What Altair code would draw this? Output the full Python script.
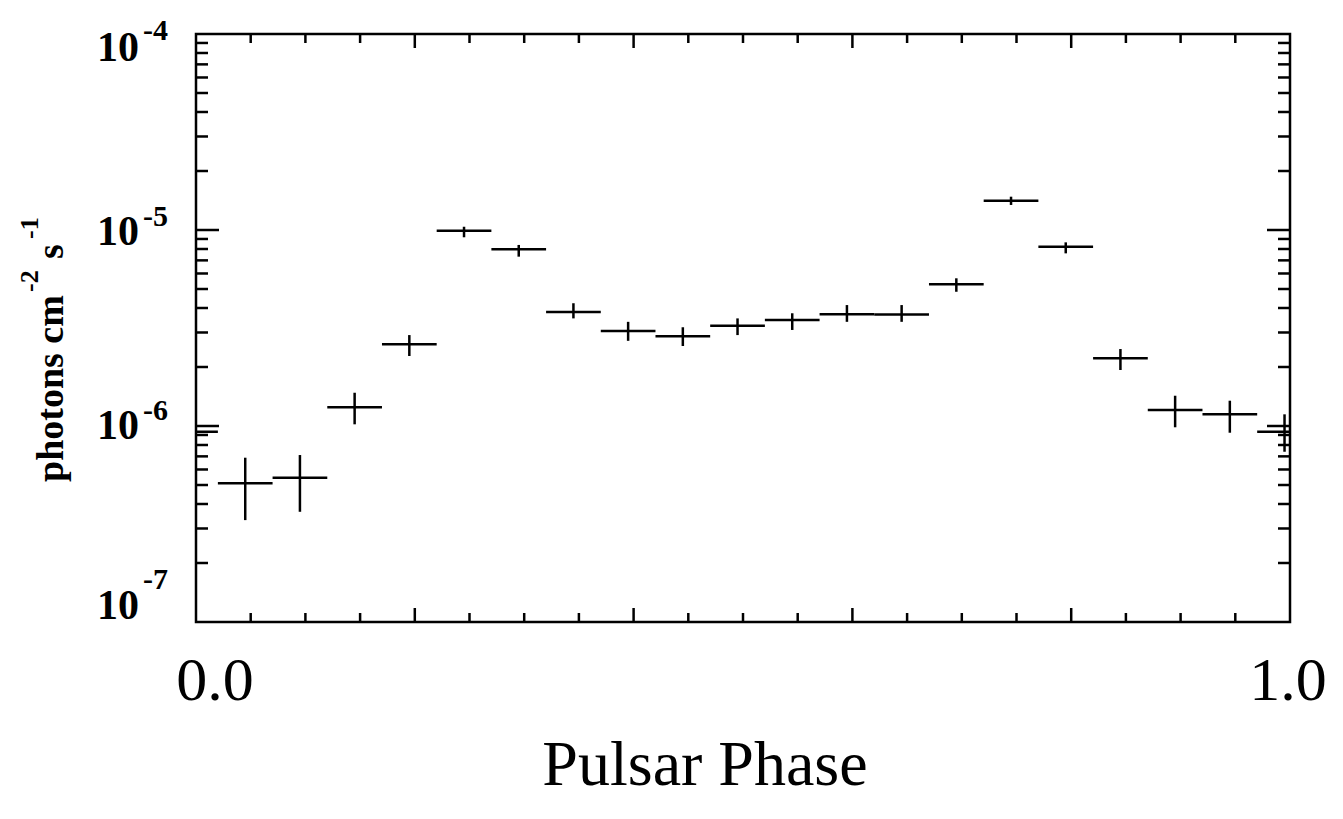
import altair as alt
import pandas as pd

# ---- data ----
phase_center = [0.045, 0.095, 0.145, 0.195, 0.245, 0.295, 0.345, 0.395, 0.445, 0.495,
                0.545, 0.595, 0.645, 0.695, 0.745, 0.795, 0.845, 0.895, 0.945, 0.995]
bin_half = 0.025
flux = [5.10e-7, 5.45e-7, 1.245e-6, 2.61e-6, 9.92e-6, 7.97e-6, 3.815e-6, 3.053e-6, 2.869e-6, 3.248e-6,
        3.47e-6, 3.714e-6, 3.71e-6, 5.28e-6, 1.411e-5, 8.22e-6, 2.215e-6, 1.206e-6, 1.147e-6, 9.35e-7]
flux_hi = [6.89e-7, 7.11e-7, 1.478e-6, 2.91e-6, 1.039e-5, 8.39e-6, 4.23e-6, 3.40e-6, 3.19e-6, 3.54e-6,
           3.76e-6, 4.14e-6, 4.14e-6, 5.67e-6, 1.479e-5, 8.65e-6, 2.47e-6, 1.427e-6, 1.346e-6, 1.147e-6]
flux_lo = [3.31e-7, 3.65e-7, 1.020e-6, 2.276e-6, 9.18e-6, 7.31e-6, 3.54e-6, 2.72e-6, 2.56e-6, 2.91e-6,
           3.09e-6, 3.40e-6, 3.40e-6, 4.84e-6, 1.342e-5, 7.60e-6, 1.93e-6, 9.85e-7, 9.24e-7, 7.39e-7]

x_minor_ticks = [0.05, 0.1, 0.15, 0.25, 0.3, 0.35, 0.45, 0.5, 0.55, 0.65, 0.7, 0.75, 0.85, 0.9, 0.95]
x_major_ticks = [0.2, 0.4, 0.6, 0.8]
x_labels = ["0.0", "1.0"]
x_label_values = [0.0, 1.0]

y_major_ticks = [1e-6, 1e-5]
y_minor_ticks = [2e-7, 3e-7, 4e-7, 5e-7, 6e-7, 7e-7, 8e-7, 9e-7,
                 2e-6, 3e-6, 4e-6, 5e-6, 6e-6, 7e-6, 8e-6, 9e-6,
                 2e-5, 3e-5, 4e-5, 5e-5, 6e-5, 7e-5, 8e-5, 9e-5]
y_decades = [1e-7, 1e-6, 1e-5, 1e-4]
y_label_base = ["10", "10", "10", "10"]
y_label_exp = ["-7", "-6", "-5", "-4"]

# ---- tables ----
df = pd.DataFrame({"phase": phase_center, "flux": flux, "hi": flux_hi, "lo": flux_lo})
df["x0"] = df["phase"] - bin_half
df["x1"] = df["phase"] + bin_half
# phase wraps: the last bin also shows at the start of the phase axis
wrap = df.iloc[[-1]].copy()
wrap["phase"] = wrap["phase"] - 1.0
wrap["x0"] = wrap["x0"] - 1.0
wrap["x1"] = wrap["x1"] - 1.0
df_all = pd.concat([df, wrap], ignore_index=True)

W, H = 1094, 588
xs = alt.Scale(domain=[0, 1], nice=False, zero=False)
ys = alt.Scale(type="log", domain=[1e-7, 1e-4], nice=False)
SERIF = "Liberation Serif"
LW = 2.5

base = alt.Chart(df_all)
hbars = base.mark_rule(color="black", strokeWidth=LW, clip=True).encode(
    x=alt.X("x0:Q", scale=xs, axis=None), x2="x1:Q",
    y=alt.Y("flux:Q", scale=ys, axis=None))
vbars = base.mark_rule(color="black", strokeWidth=LW, clip=True).encode(
    x=alt.X("phase:Q", scale=xs, axis=None),
    y=alt.Y("lo:Q", scale=ys, axis=None), y2="hi:Q")

layers = [hbars, vbars]

# x ticks (inward, bottom & top)
for vals, L in [(x_minor_ticks, 9), (x_major_ticks, 14)]:
    t = alt.Chart(pd.DataFrame({"v": vals}))
    layers.append(t.mark_rule(color="black", strokeWidth=LW).encode(
        x=alt.X("v:Q", scale=xs, axis=None), y=alt.value(H), y2=alt.value(H - L)))
    layers.append(t.mark_rule(color="black", strokeWidth=LW).encode(
        x=alt.X("v:Q", scale=xs, axis=None), y=alt.value(0), y2=alt.value(L)))

# y ticks (inward, left & right)
for vals, L in [(y_minor_ticks, 12), (y_major_ticks, 23)]:
    t = alt.Chart(pd.DataFrame({"v": vals}))
    layers.append(t.mark_rule(color="black", strokeWidth=LW).encode(
        y=alt.Y("v:Q", scale=ys, axis=None), x=alt.value(0), x2=alt.value(L)))
    layers.append(t.mark_rule(color="black", strokeWidth=LW).encode(
        y=alt.Y("v:Q", scale=ys, axis=None), x=alt.value(W), x2=alt.value(W - L)))

# frame
layers.append(alt.Chart(pd.DataFrame({"k": [0]})).mark_rect(
    fill=None, stroke="black", strokeWidth=LW).encode(
    x=alt.value(0), x2=alt.value(W), y=alt.value(0), y2=alt.value(H)))

# y labels: 10 with superscript exponent
ylab = pd.DataFrame({"v": y_decades, "base": y_label_base, "exp": y_label_exp})
dy_base = {"-7": -16, "-6": 0, "-5": 2, "-4": 14}
dy_exp = {"-7": -42, "-6": -15, "-5": -13, "-4": -3}
for e in y_label_exp:
    t = alt.Chart(ylab).transform_filter(alt.datum.exp == e)
    layers.append(t.mark_text(font=SERIF, fontWeight="bold", fontSize=42, align="right",
                              baseline="middle", dy=dy_base[e]).encode(
        y=alt.Y("v:Q", scale=ys, axis=None), x=alt.value(-57), text="base:N"))
    layers.append(t.mark_text(font=SERIF, fontWeight="bold", fontSize=30, align="left",
                              baseline="middle", dy=dy_exp[e]).encode(
        y=alt.Y("v:Q", scale=ys, axis=None), x=alt.value(-53), text="exp:N"))

# x labels
xlab = pd.DataFrame({"v": x_label_values, "t": x_labels})
for val, dx in [(0.0, 19), (1.0, -2)]:
    layers.append(alt.Chart(xlab).transform_filter(alt.datum.v == val).mark_text(
        font=SERIF, fontSize=62, align="center", baseline="alphabetic", dx=dx).encode(
        x=alt.X("v:Q", scale=xs, axis=None), y=alt.value(666), text="t:N"))

# x title
layers.append(alt.Chart(pd.DataFrame({"t": ["Pulsar Phase"]})).mark_text(
    font=SERIF, fontSize=64, align="center", baseline="alphabetic").encode(
    x=alt.value(509), y=alt.value(751), text="t:N"))

# y title pieces (rotated)
ytitle = pd.DataFrame({"t": ["photons cm", "-2", "s", "-1"]})
pieces = [("photons cm", 38, -144, 448), ("-2", 26, -166, 258), ("s", 38, -144, 225), ("-1", 26, -166, 205)]
for txt, fs, px, py in pieces:
    layers.append(alt.Chart(ytitle).transform_filter(alt.datum.t == txt).mark_text(
        font=SERIF, fontWeight="bold", fontSize=fs, align="left", baseline="middle", angle=270).encode(
        x=alt.value(px), y=alt.value(py), text="t:N"))

chart = alt.layer(*layers).properties(
    width=W, height=H,
    background="white",
    autosize=alt.AutoSizeParams(type="none"),
    padding={"left": 196, "top": 34, "right": 53, "bottom": 197},
).configure_view(stroke=None)

chart.save("out.html", embed_options={"renderer": "svg", "actions": False})
